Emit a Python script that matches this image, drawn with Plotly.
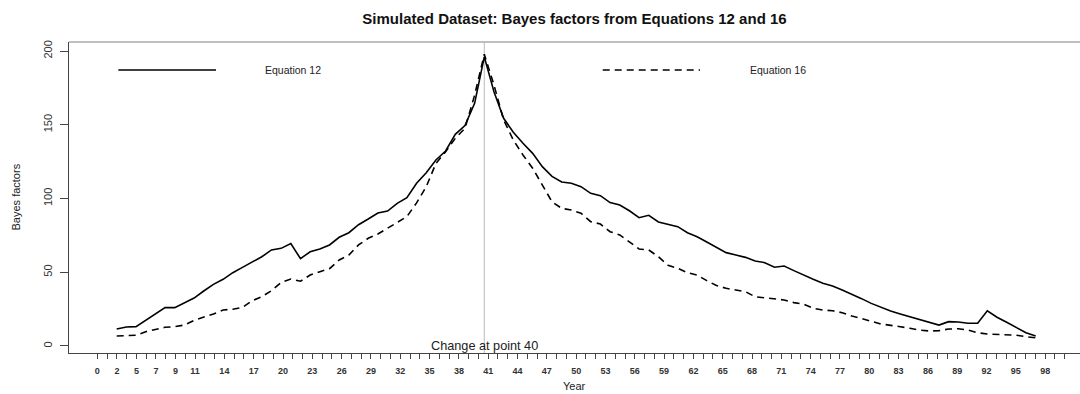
import plotly.graph_objects as go

# ---------------- data ----------------
x_points = list(range(2, 98))

eq12 = [11.5, 12.9, 13.1, 17.2, 21.7, 26.0, 26.0, 29.4, 32.5, 37.3,
        41.8, 45.2, 49.7, 53.3, 56.7, 60.5, 65.1, 66.2, 69.4, 59.2,
        63.9, 65.8, 68.5, 73.7, 76.8, 82.2, 86.1, 90.2, 91.5, 96.7,
        100.5, 110.3, 117.5, 126.1, 132.2, 143.5, 149.4, 164.5, 196.0, 172.4,
        154.4, 144.9, 137.4, 130.6, 121.6, 115.0, 111.2, 110.3, 108.0, 103.5,
        101.9, 97.2, 95.6, 91.7, 87.0, 88.6, 84.1, 82.5, 80.9, 76.8,
        74.1, 70.5, 66.9, 63.3, 61.7, 60.1, 57.6, 56.5, 53.4, 54.2,
        51.1, 47.9, 45.2, 42.5, 40.7, 37.9, 35.1, 32.1, 28.9, 26.2,
        23.7, 21.7, 19.9, 17.6, 15.8, 14.2, 16.5, 16.3, 15.4, 15.4,
        23.9, 19.5, 16.1, 12.4, 9.0, 6.8]

eq16 = [6.8, 6.8, 7.3, 9.7, 11.3, 12.7, 13.1, 14.2, 17.4, 19.5,
        21.7, 24.4, 24.9, 26.2, 30.7, 33.4, 37.5, 43.0, 45.4, 43.9,
        48.1, 50.4, 52.4, 58.3, 61.7, 68.5, 73.0, 75.9, 79.8, 84.1,
        87.7, 97.0, 108.0, 123.8, 131.7, 140.8, 147.6, 170.0, 197.8, 177.0,
        153.2, 139.7, 129.5, 120.5, 109.2, 97.8, 93.3, 92.2, 90.0, 84.3,
        82.7, 77.5, 75.3, 70.7, 65.8, 65.1, 60.5, 54.7, 52.7, 49.7,
        48.1, 44.3, 41.0, 39.1, 38.0, 36.8, 33.4, 32.7, 31.9, 31.2,
        29.4, 28.3, 25.6, 24.4, 23.9, 22.6, 20.3, 18.8, 16.8, 14.9,
        14.2, 13.1, 12.0, 10.8, 10.2, 10.4, 11.5, 11.7, 10.8, 9.0,
        8.1, 7.9, 7.5, 7.3, 6.3, 5.6]

# x axis: 100 evenly spaced ticks from 0 to 100, only some labelled
n_ticks = 100
labelled_tick_index = [0, 2, 4, 6, 8, 10, 13, 16, 19, 22, 25, 28, 31, 34, 37, 40,
                       43, 46, 49, 52, 55, 58, 61, 64, 67, 70, 73, 76, 79, 82,
                       85, 88, 91, 94, 97]
labelled_tick_text = ["0", "2", "5", "7", "9", "11", "14", "17", "20", "23", "26",
                      "29", "32", "35", "38", "41", "44", "47", "50", "53", "56",
                      "59", "62", "65", "68", "71", "74", "77", "80", "83", "86",
                      "89", "92", "95", "98"]

y_ticks = [0, 50, 100, 150, 200]
change_point = 40

# --------------- figure ---------------
tick_vals = [k * 100 / (n_ticks - 1) for k in range(n_ticks)]
tick_text = [""] * n_ticks
for i, t in zip(labelled_tick_index, labelled_tick_text):
    tick_text[i] = t

fig = go.Figure()
fig.add_trace(go.Scatter(x=x_points, y=eq12, mode="lines",
                         line=dict(color="black", width=1.6), name="Equation 12"))
fig.add_trace(go.Scatter(x=x_points, y=eq16, mode="lines",
                         line=dict(color="black", width=1.6, dash="7px,5px"),
                         name="Equation 16"))

AX = "#444444"
fig.update_layout(
    width=1080, height=394,
    margin=dict(l=69, r=0, t=42, b=41),
    paper_bgcolor="white", plot_bgcolor="white",
    showlegend=False,
    font=dict(family="Liberation Sans, Arial, sans-serif", color="#222222"),
    title=dict(text="<b>Simulated Dataset: Bayes factors from Equations 12 and 16</b>",
               x=0.5, xref="paper", xanchor="center",
               y=1 - 19 / 394, yref="container", yanchor="middle",
               font=dict(size=15, color="#111111")),
    xaxis=dict(range=[-2.93, 101.58], showgrid=False, zeroline=False,
               showline=True, linecolor=AX, linewidth=1,
               tickmode="array", tickvals=tick_vals, ticktext=tick_text,
               ticks="outside", ticklen=5, tickcolor=AX, tickwidth=1,
               tickfont=dict(size=9, color="#333333", weight="bold"),
               ticklabelstandoff=4),
    yaxis=dict(range=[-4.75, 206.1], showgrid=False, zeroline=False,
               showline=True, linecolor=AX, linewidth=1,
               tickmode="array", tickvals=y_ticks,
               ticks="outside", ticklen=8, tickcolor=AX, tickwidth=1,
               tickangle=-90,
               tickfont=dict(size=11, family="Liberation Sans Narrow, Liberation Sans, Arial",
                             color="#333333"),
               ticklabelstandoff=4),
)

# top border (light gray)
fig.add_shape(type="line", xref="paper", yref="paper", x0=0, x1=1, y0=1, y1=1,
              line=dict(color="#aaaaaa", width=1.3))
# change-point vertical line
fig.add_shape(type="line", xref="x", yref="paper", x0=change_point, x1=change_point,
              y0=0, y1=1, line=dict(color="#bbbbbb", width=1), layer="below")

# legend (drawn inside plot as in the original)
fig.add_shape(type="line", xref="x", yref="y", x0=2.17, x1=12.27, y0=187.1, y1=187.1,
              line=dict(color="black", width=1.6))
fig.add_shape(type="line", xref="x", yref="y", x0=52.24, x1=62.3, y0=187.1, y1=187.1,
              line=dict(color="black", width=1.6, dash="7px,5px"))
fig.add_annotation(x=17.15, y=187.1, xref="x", yref="y", text="Equation 12",
                   showarrow=False, xanchor="left", yanchor="middle",
                   font=dict(size=10.5, color="#222222"))
fig.add_annotation(x=67.3, y=187.1, xref="x", yref="y", text="Equation 16",
                   showarrow=False, xanchor="left", yanchor="middle",
                   font=dict(size=10.5, color="#222222"))

fig.add_annotation(x=change_point, y=0, xref="x", yref="y",
                   text="Change at point " + str(change_point),
                   showarrow=False, xanchor="center", yanchor="middle",
                   font=dict(size=12.7, color="#222222"))

# axis titles
fig.add_annotation(x=0, y=0.5, xref="paper", yref="paper", text="Bayes factors",
                   textangle=-90, showarrow=False, xanchor="center", yanchor="middle",
                   xshift=-54,
                   font=dict(size=11, family="Liberation Sans Narrow, Liberation Sans, Arial",
                             color="#222222"))
fig.add_annotation(x=0.5, y=0, xref="paper", yref="paper", text="Year",
                   showarrow=False, xanchor="center", yanchor="middle",
                   yshift=-33, borderpad=0, font=dict(size=11, color="#222222"))

fig.write_html("out.html")
